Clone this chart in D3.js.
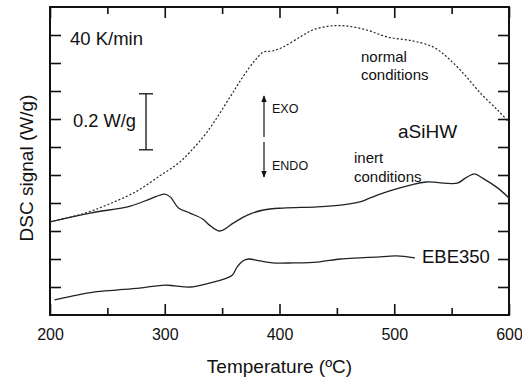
<!DOCTYPE html>
<html>
<head>
<meta charset="utf-8">
<script src="https://cdn.jsdelivr.net/npm/d3@7"></script>
<style>
  body { margin: 0; background: #fff; }
  text { font-family: "Liberation Sans", Arial, sans-serif; fill: #111; }
</style>
</head>
<body>
<div id="chart"></div>
<script>
// data (temperature in ºC, signal in W/g, arbitrary offset)
var xTicks = [200, 300, 400, 500, 600];
var xMinor = [250, 350, 450, 550];
var yTicks = [0.1, 0.2, 0.3, 0.4, 0.5, 0.6, 0.7, 0.8, 0.9, 1.0];

var tempNormal = [200, 229, 252, 276, 296, 311, 322, 337, 357, 368, 379, 386, 394, 403, 418, 429, 444, 459, 476, 494, 516, 534, 546, 560, 575, 590, 599];
var dscNormal  = [0.333, 0.362, 0.397, 0.443, 0.498, 0.539, 0.582, 0.654, 0.779, 0.850, 0.911, 0.939, 0.943, 0.957, 0.993, 1.018, 1.032, 1.032, 1.018, 0.993, 0.979, 0.957, 0.921, 0.864, 0.793, 0.732, 0.693];

var tempInert = [200, 235, 270, 287, 300, 305, 312, 322, 333, 339, 348, 360, 372, 386, 403, 433, 455, 470, 479, 496, 514, 528, 555, 562, 570, 577, 590, 600];
var dscInert  = [0.333, 0.364, 0.389, 0.414, 0.432, 0.421, 0.382, 0.364, 0.343, 0.321, 0.300, 0.329, 0.357, 0.375, 0.382, 0.386, 0.393, 0.404, 0.418, 0.443, 0.464, 0.475, 0.471, 0.489, 0.504, 0.489, 0.454, 0.418];

var tempEBE = [204, 238, 258, 278, 300, 309, 322, 339, 354, 359, 363, 368, 373, 383, 394, 412, 433, 453, 470, 485, 502, 518];
var dscEBE  = [0.054, 0.082, 0.089, 0.096, 0.107, 0.104, 0.100, 0.114, 0.132, 0.143, 0.171, 0.193, 0.200, 0.193, 0.186, 0.186, 0.189, 0.200, 0.204, 0.207, 0.211, 0.204];

// setup
var width = 522, height = 383;
var plotLeft = 50, plotRight = 509, plotTop = 7, plotBottom = 315;

var svg = d3.select('#chart').append('svg')
    .attr('width', width).attr('height', height);

var x = d3.scaleLinear().domain([200, 600]).range([plotLeft, plotRight]);
var y = d3.scaleLinear().domain([0, 1.1]).range([plotBottom, plotTop]);

// axes, ticks pointing inward
function styleAxis(g) {
    g.select('.domain').remove();
    g.selectAll('.tick line').attr('stroke', '#111').attr('stroke-width', 1.6);
}

svg.append('g').attr('transform', 'translate(0,' + plotBottom + ')')
    .call(d3.axisBottom(x).tickValues(xTicks).tickSize(-11).tickSizeOuter(0).tickPadding(14))
    .call(styleAxis)
    .selectAll('text').attr('font-size', 16).attr('font-family', '"Liberation Sans", Arial, sans-serif').attr('fill', '#111');

svg.append('g').attr('transform', 'translate(0,' + plotBottom + ')')
    .call(d3.axisBottom(x).tickValues(xMinor).tickSize(-7).tickFormat(''))
    .call(styleAxis);

svg.append('g').attr('transform', 'translate(0,' + plotTop + ')')
    .call(d3.axisTop(x).tickValues(xTicks).tickSize(-11).tickFormat(''))
    .call(styleAxis);

svg.append('g').attr('transform', 'translate(0,' + plotTop + ')')
    .call(d3.axisTop(x).tickValues(xMinor).tickSize(-7).tickFormat(''))
    .call(styleAxis);

svg.append('g').attr('transform', 'translate(' + plotLeft + ',0)')
    .call(d3.axisLeft(y).tickValues(yTicks).tickSize(-11).tickFormat(''))
    .call(styleAxis);

svg.append('g').attr('transform', 'translate(' + plotRight + ',0)')
    .call(d3.axisRight(y).tickValues(yTicks).tickSize(-11).tickFormat(''))
    .call(styleAxis);

// frame
svg.append('rect')
    .attr('x', plotLeft).attr('y', plotTop)
    .attr('width', plotRight - plotLeft).attr('height', plotBottom - plotTop)
    .attr('fill', 'none').attr('stroke', '#111').attr('stroke-width', 2);

// curves
var line = d3.line()
    .x(function(d) { return x(d[0]); })
    .y(function(d) { return y(d[1]); })
    .curve(d3.curveCatmullRom.alpha(0.5));

svg.append('path')
    .attr('d', line(d3.zip(tempNormal, dscNormal)))
    .attr('fill', 'none').attr('stroke', '#222').attr('stroke-width', 1.2)
    .attr('stroke-dasharray', '2,2');

svg.append('path')
    .attr('d', line(d3.zip(tempInert, dscInert)))
    .attr('fill', 'none').attr('stroke', '#222').attr('stroke-width', 1.3);

svg.append('path')
    .attr('d', line(d3.zip(tempEBE, dscEBE)))
    .attr('fill', 'none').attr('stroke', '#222').attr('stroke-width', 1.3);

// scale bar 0.2 W/g
var barX = 146, barTop = y(0.79), barBot = y(0.59);
svg.append('line').attr('x1', barX).attr('x2', barX).attr('y1', barTop).attr('y2', barBot)
    .attr('stroke', '#111').attr('stroke-width', 1.3);
[barTop, barBot].forEach(function(v) {
    svg.append('line').attr('x1', barX - 7).attr('x2', barX + 7).attr('y1', v).attr('y2', v)
        .attr('stroke', '#111').attr('stroke-width', 1.3);
});

// EXO / ENDO arrows
var defs = svg.append('defs');
defs.append('marker').attr('id', 'head')
    .attr('viewBox', '0 0 10 10').attr('refX', 9).attr('refY', 5)
    .attr('markerWidth', 6).attr('markerHeight', 8).attr('orient', 'auto')
    .append('path').attr('d', 'M0,1L10,5L0,9Z').attr('fill', '#111');

svg.append('line').attr('x1', 264).attr('x2', 264).attr('y1', 137).attr('y2', 96)
    .attr('stroke', '#111').attr('stroke-width', 1.2).attr('marker-end', 'url(#head)');
svg.append('line').attr('x1', 264).attr('x2', 264).attr('y1', 142).attr('y2', 177)
    .attr('stroke', '#111').attr('stroke-width', 1.2).attr('marker-end', 'url(#head)');

// labels
function label(txt, lx, ly, size) {
    return svg.append('text').attr('x', lx).attr('y', ly)
        .attr('font-size', size).text(txt);
}
label('40 K/min', 70, 45, 18.5);
label('0.2 W/g', 73, 127, 18.3);
label('EXO', 272, 113, 12.5);
label('ENDO', 272, 170, 12.5);
label('normal', 361, 62, 15);
label('conditions', 361, 80, 15);
label('aSiHW', 398, 138, 19);
label('inert', 354, 163, 15);
label('conditions', 354, 182, 15);
label('EBE350', 422, 263, 18.5);

// axis titles
svg.append('text')
    .attr('x', (plotLeft + plotRight) / 2).attr('y', 373)
    .attr('text-anchor', 'middle').attr('font-size', 19)
    .text('Temperature (ºC)');

svg.append('text')
    .attr('transform', 'translate(33,' + 168 + ') rotate(-90)')
    .attr('text-anchor', 'middle').attr('font-size', 19)
    .text('DSC signal (W/g)');
</script>
</body>
</html>
